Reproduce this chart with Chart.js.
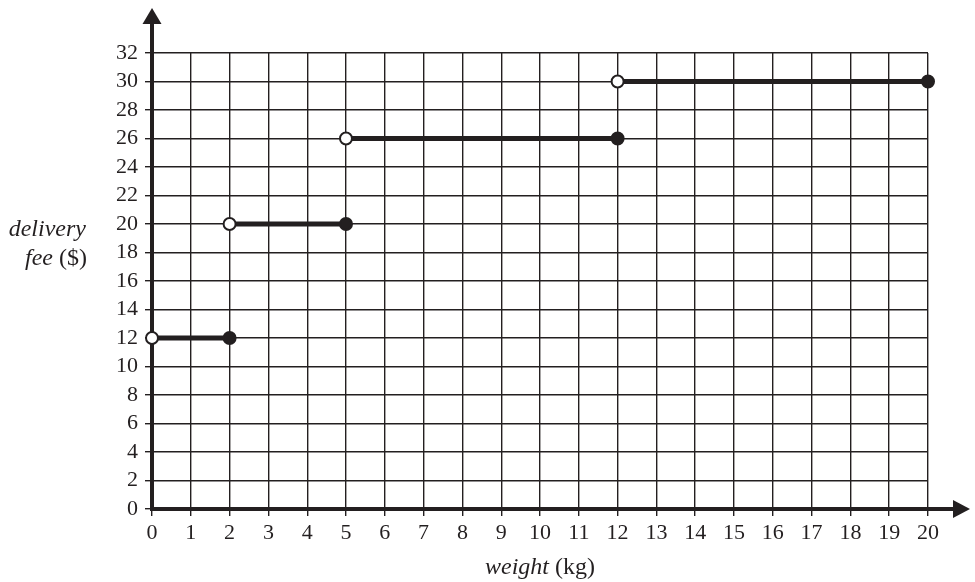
<!DOCTYPE html>
<html>
<head>
<meta charset="utf-8">
<script src="https://cdn.jsdelivr.net/npm/chart.js@4"></script>
<style>
  html, body { margin: 0; padding: 0; background: #fff; }
  #wrap { width: 975px; height: 582px; position: relative; }
</style>
</head>
<body>
<div id="wrap"><canvas id="chart"></canvas></div>
<script>
// step segments: weight from start (open) to end (closed)
const segStart = [0, 2, 5, 12];
const segEnd = [2, 5, 12, 20];
const fees = [12, 20, 26, 30];

const xMin = 0, xMax = 20, xStep = 1;
const yMin = 0, yMax = 32, yStep = 2;

const ink = '#231f20';
const serif = '"Liberation Serif", "DejaVu Serif", serif';

let datasets = [];
for (let i = 0; i < fees.length; i++) {
    datasets.push({
        data: [{ x: segStart[i], y: fees[i] }, { x: segEnd[i], y: fees[i] }],
        borderColor: ink,
        borderWidth: 5,
        pointRadius: 6,
        pointBorderWidth: 2,
        pointBorderColor: ink,
        pointBackgroundColor: ['#ffffff', ink],
        clip: false
    });
}

// thick axes with arrow heads, drawn under the data
const axesPlugin = {
    id: 'axes',
    beforeDatasetsDraw: function(chart) {
        const ctx = chart.ctx;
        const x0 = chart.scales.x.getPixelForValue(0);
        const y0 = chart.scales.y.getPixelForValue(0);
        ctx.save();
        ctx.strokeStyle = ink;
        ctx.fillStyle = ink;
        ctx.lineWidth = 4;
        ctx.beginPath();
        ctx.moveTo(x0, y0 + 2);
        ctx.lineTo(x0, 22);
        ctx.moveTo(x0 - 2, y0);
        ctx.lineTo(955, y0);
        ctx.stroke();
        // y arrow
        ctx.beginPath();
        ctx.moveTo(x0, 8);
        ctx.lineTo(x0 - 9.5, 24);
        ctx.lineTo(x0 + 9.5, 24);
        ctx.closePath();
        ctx.fill();
        // x arrow
        ctx.beginPath();
        ctx.moveTo(970, y0);
        ctx.lineTo(953, y0 - 9);
        ctx.lineTo(953, y0 + 9);
        ctx.closePath();
        ctx.fill();
        ctx.restore();
    }
};

// axis titles with italic words
const titlesPlugin = {
    id: 'titles',
    afterDraw: function(chart) {
        const ctx = chart.ctx;
        ctx.save();
        ctx.fillStyle = ink;
        ctx.textBaseline = 'alphabetic';
        const italic = 'italic 24px ' + serif;
        const normal = '24px ' + serif;

        // y title, right aligned in two lines
        ctx.textAlign = 'right';
        ctx.font = italic;
        ctx.fillText('delivery', 86, 236);
        ctx.font = normal;
        const unitW = ctx.measureText('($)').width;
        ctx.fillText('($)', 87, 265);
        ctx.font = italic;
        ctx.fillText('fee ', 87 - unitW, 265);

        // x title, centred
        ctx.textAlign = 'left';
        ctx.font = italic;
        const w1 = ctx.measureText('weight ').width;
        ctx.font = normal;
        const w2 = ctx.measureText('(kg)').width;
        const start = 540 - (w1 + w2) / 2;
        ctx.font = italic;
        ctx.fillText('weight ', start, 574);
        ctx.font = normal;
        ctx.fillText('(kg)', start + w1, 574);
        ctx.restore();
    }
};

new Chart(document.getElementById('chart'), {
    type: 'line',
    data: { datasets: datasets },
    options: {
        responsive: true,
        maintainAspectRatio: false,
        animation: false,
        layout: { padding: { top: 53, right: 47, bottom: 0, left: 0 } },
        plugins: {
            legend: { display: false },
            tooltip: { enabled: false }
        },
        scales: {
            x: {
                type: 'linear',
                min: xMin,
                max: xMax,
                afterFit: function(scale) { scale.height = 73; },
                ticks: {
                    stepSize: xStep,
                    color: ink,
                    padding: 4,
                    maxRotation: 0,
                    autoSkip: false,
                    font: { family: serif, size: 22 }
                },
                grid: { color: ink, lineWidth: 1.4, tickLength: 7, tickColor: ink },
                border: { display: false }
            },
            y: {
                type: 'linear',
                min: yMin,
                max: yMax,
                afterFit: function(scale) { scale.width = 152; },
                ticks: {
                    stepSize: yStep,
                    color: ink,
                    padding: 7,
                    autoSkip: false,
                    font: { family: serif, size: 22 }
                },
                grid: { color: ink, lineWidth: 1.4, tickLength: 7, tickColor: ink },
                border: { display: false }
            }
        }
    },
    plugins: [axesPlugin, titlesPlugin]
});
</script>
</body>
</html>
